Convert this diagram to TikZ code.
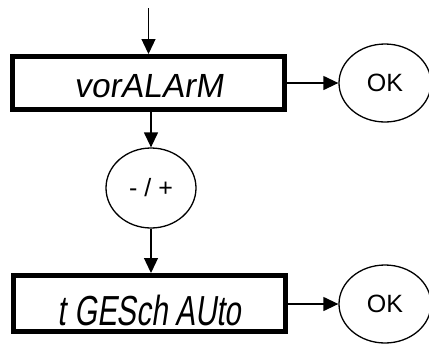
\documentclass[tikz,border=0pt]{standalone}
\usepackage{fontspec}
\usepackage{tikz}
\usetikzlibrary{shapes.geometric,arrows.meta,calc}
\setmainfont{Liberation Sans}
\newfontfamily\lcdfont[FakeSlant=0.15]{Liberation Sans}
\newcommand{\keyfont}{\fontsize{25}{30}\selectfont}
\tikzstyle{dispbox} = [
    draw=black,
    line width=5pt,
    rectangle,
    minimum width=272pt,
    inner sep=0pt,
    font=\lcdfont
    ]
\tikzstyle{keyoval} = [
    draw=black,
    line width=1.3pt,
    ellipse,
    inner sep=0pt
    ]
\tikzstyle{flow} = [
    line width=1.3pt,
    -{Triangle[length=15pt,width=14pt]}
    ]

\begin{document}
\begin{tikzpicture}[x=1pt,y=-1pt]
\useasboundingbox (0,0) rectangle (429,349);
% display states
\node [dispbox, minimum height=53pt, text height=28pt, text depth=0pt] (vor) at (148.5,83)
    {\fontsize{33.5}{36}\selectfont vorALArM};
\node [dispbox, minimum height=56pt, text height=43pt, text depth=0pt] (tges) at (149.5,303.5)
    {\fontsize{42}{44}\selectfont\addfontfeature{FakeStretch=0.7}t GESch AUto};
% keys
\node [keyoval, minimum width=92pt, minimum height=78pt] (ok1) at (385,83) {\keyfont OK};
\node [keyoval, minimum width=90pt, minimum height=80pt] (pm) at (151,188) {\keyfont - / +};
\node [keyoval, minimum width=92pt, minimum height=78pt] (ok2) at (385,304) {\keyfont OK};
\coordinate (entry) at (148.5,8);
% arrows
\draw [flow] (entry) -- (vor);
\draw [flow] (vor) -- (ok1);
\draw [flow] (vor.south -| pm) -- (pm);
\draw [flow] (pm) -- (pm |- tges.north);
\draw [flow] (tges.east |- ok2) -- (ok2);
\end{tikzpicture}
\end{document}
